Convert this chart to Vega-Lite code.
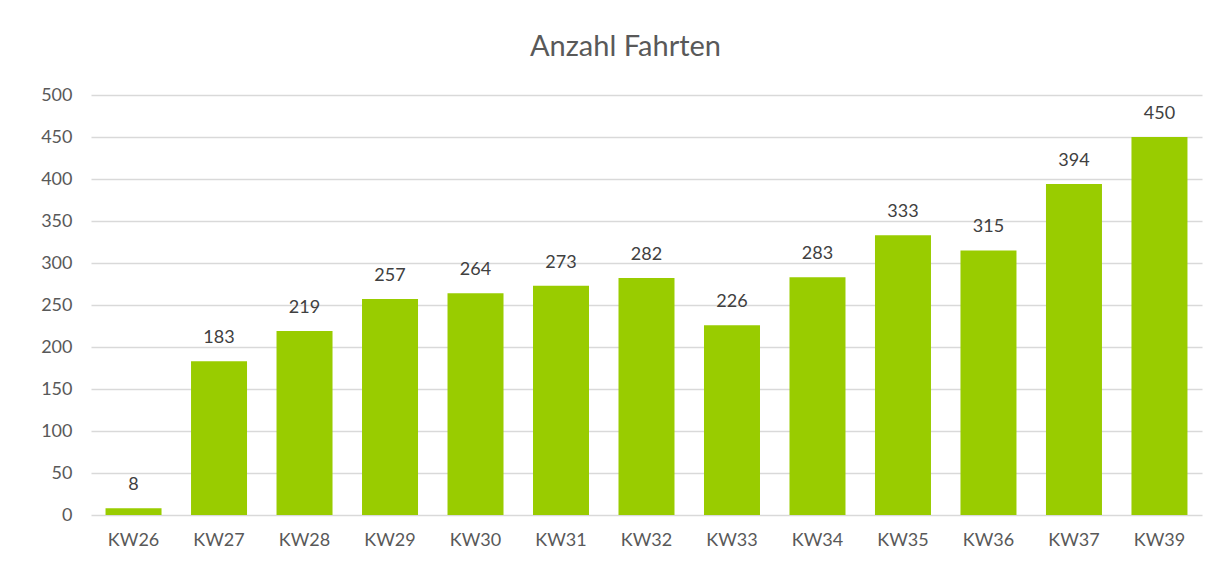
{
  "$schema": "https://vega.github.io/schema/vega-lite/v6.json",
  "width": 1111,
  "height": 420,
  "padding": {"left": 40, "top": 33, "right": 6, "bottom": 5},
  "background": "#ffffff",
  "title": {
    "text": "Anzahl Fahrten",
    "font": "Lato",
    "fontSize": 29,
    "fontWeight": "normal",
    "color": "#595959",
    "anchor": "middle",
    "dx": -21,
    "offset": 24
  },
  "data": {
    "values": [
      {"week": "KW26", "fahrten": 8},
      {"week": "KW27", "fahrten": 183},
      {"week": "KW28", "fahrten": 219},
      {"week": "KW29", "fahrten": 257},
      {"week": "KW30", "fahrten": 264},
      {"week": "KW31", "fahrten": 273},
      {"week": "KW32", "fahrten": 282},
      {"week": "KW33", "fahrten": 226},
      {"week": "KW34", "fahrten": 283},
      {"week": "KW35", "fahrten": 333},
      {"week": "KW36", "fahrten": 315},
      {"week": "KW37", "fahrten": 394},
      {"week": "KW39", "fahrten": 450}
    ]
  },
  "encoding": {
    "x": {
      "field": "week",
      "type": "nominal",
      "sort": null,
      "scale": {"paddingInner": 0.345, "paddingOuter": 0.17},
      "axis": {
        "title": null,
        "labelAngle": 0,
        "domain": false,
        "ticks": false,
        "labelFont": "Lato",
        "labelFontSize": 18,
        "labelColor": "#595959",
        "labelPadding": 16
      }
    },
    "y": {
      "field": "fahrten",
      "type": "quantitative",
      "scale": {"domain": [0, 500]},
      "axis": {
        "title": null,
        "values": [0, 50, 100, 150, 200, 250, 300, 350, 400, 450, 500],
        "domain": false,
        "ticks": false,
        "grid": true,
        "gridColor": "#d9d9d9",
        "gridWidth": 1.3,
        "labelFont": "Lato",
        "labelFontSize": 18,
        "labelColor": "#595959",
        "labelPadding": 19
      }
    }
  },
  "layer": [
    {"mark": {"type": "bar", "color": "#99cc00"}},
    {
      "mark": {
        "type": "text",
        "baseline": "middle",
        "dy": -23,
        "font": "Lato",
        "fontSize": 18,
        "color": "#404040"
      },
      "encoding": {"text": {"field": "fahrten", "type": "quantitative"}}
    }
  ],
  "config": {"view": {"stroke": null}}
}
